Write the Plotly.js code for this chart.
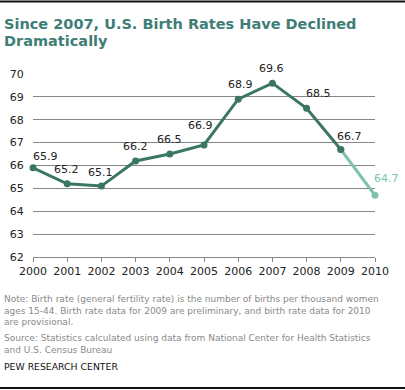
<!DOCTYPE html>
<html>
<head>
<meta charset="utf-8">
<script src="https://cdn.plot.ly/plotly-3.0.1.min.js"></script>
<style>
html,body{margin:0;padding:0;background:#fff;}
#chart{width:405px;height:390px;}
</style>
</head>
<body>
<div id="chart"></div>
<script>
// ---- data ----
var years = [2000, 2001, 2002, 2003, 2004, 2005, 2006, 2007, 2008, 2009, 2010];
var birthRates = [65.9, 65.2, 65.1, 66.2, 66.5, 66.9, 68.9, 69.6, 68.5, 66.7, 64.7];
var provisionalFrom = 9; // index where the provisional (light) segment starts
var yTicks = [62, 63, 64, 65, 66, 67, 68, 69, 70];
var xTicks = years;

var titleLines = ["Since 2007, U.S. Birth Rates Have Declined", "Dramatically"];
var noteLines = [
  "Note: Birth rate (general fertility rate) is the number of births per thousand women",
  "ages 15-44. Birth rate data for 2009 are preliminary, and birth rate data for 2010",
  "are provisional."
];
var sourceLines = [
  "Source: Statistics calculated using data from National Center for Health Statistics",
  "and U.S. Census Bureau"
];
var credit = "PEW RESEARCH CENTER";

// ---- styling ----
var DARK = "#3b7663";
var LIGHT = "#7dc3ab";
var labelDx = [12, -1, -1, 0, 0, -4, 2, -1, 12, 9, 11];
var labelDy = [11, 14, 14, 14, 15, 19, 15, 15, 15, 13, 17];

// plot area in pixels
var L = 33, R = 30, T = 74, B = 133, W = 405, H = 390;
var pw = W - L - R, ph = H - T - B;
function px(x) { return (x - L) / pw; }
function py(y) { return (H - B - y) / ph; }

var traceLight = {
  x: years.slice(provisionalFrom),
  y: birthRates.slice(provisionalFrom),
  mode: "lines+markers",
  line: {color: LIGHT, width: 3},
  marker: {color: LIGHT, size: 7},
  hoverinfo: "skip",
  cliponaxis: false
};
var traceDark = {
  x: years.slice(0, provisionalFrom + 1),
  y: birthRates.slice(0, provisionalFrom + 1),
  mode: "lines+markers",
  line: {color: DARK, width: 3},
  marker: {color: DARK, size: 7},
  hoverinfo: "skip",
  cliponaxis: false
};

var annotations = [];
for (var i = 0; i < years.length; i++) {
  annotations.push({
    x: years[i], y: birthRates[i], xref: "x", yref: "y",
    text: birthRates[i].toFixed(1), showarrow: false,
    xshift: labelDx[i], yshift: labelDy[i],
    font: {family: "DejaVu Sans", size: 11, color: i >= provisionalFrom + 1 ? LIGHT : "#222"}
  });
}
var titleY = [23.5, 41];
titleLines.forEach(function (t, k) {
  annotations.push({
    xref: "paper", yref: "paper", x: px(2), y: py(titleY[k]),
    xanchor: "left", yanchor: "middle", showarrow: false, text: "<b>" + t + "</b>",
    font: {family: "DejaVu Sans", size: 14.5, color: "#3e7e75"}
  });
});
var noteY = [299, 310.5, 322];
noteLines.forEach(function (t, k) {
  annotations.push({
    xref: "paper", yref: "paper", x: px(2), y: py(noteY[k]),
    xanchor: "left", yanchor: "middle", showarrow: false, text: t,
    font: {family: "DejaVu Sans", size: 9, color: "#8a8a8a"}
  });
});
var sourceY = [338, 349.5];
sourceLines.forEach(function (t, k) {
  annotations.push({
    xref: "paper", yref: "paper", x: px(2), y: py(sourceY[k]),
    xanchor: "left", yanchor: "middle", showarrow: false, text: t,
    font: {family: "DejaVu Sans", size: 9, color: "#8a8a8a"}
  });
});
annotations.push({
  xref: "paper", yref: "paper", x: px(2), y: py(366),
  xanchor: "left", yanchor: "middle", showarrow: false, text: credit,
  font: {family: "DejaVu Sans", size: 9.3, color: "#111"}
});

var layout = {
  width: W, height: H,
  margin: {l: L, r: R, t: T, b: B},
  paper_bgcolor: "#fff", plot_bgcolor: "#fff",
  showlegend: false,
  xaxis: {
    range: [2000, 2010], tickvals: xTicks, ticktext: xTicks.map(String),
    showgrid: false, zeroline: false, showline: true, linecolor: "#858585", linewidth: 1,
    ticks: "outside", ticklen: 4, tickcolor: "#858585", tickwidth: 1,
    tickfont: {family: "DejaVu Sans", size: 11, color: "#222"}, fixedrange: true
  },
  yaxis: {
    range: [62, 70], tickvals: yTicks, ticktext: yTicks.map(String),
    showgrid: true, gridcolor: "#858585", gridwidth: 1, zeroline: false, showline: false,
    ticks: "outside", ticklen: 6, tickcolor: "rgba(0,0,0,0)",
    tickfont: {family: "DejaVu Sans", size: 11, color: "#222"}, fixedrange: true
  },
  annotations: annotations,
  shapes: [
    {type: "line", xref: "paper", yref: "paper", x0: px(0), x1: px(405), y0: py(1.5), y1: py(1.5),
     line: {color: "#111", width: 2}},
    {type: "line", xref: "paper", yref: "paper", x0: px(0), x1: px(405), y0: py(388), y1: py(388),
     line: {color: "#111", width: 2}}
  ]
};

Plotly.newPlot("chart", [traceLight, traceDark], layout, {displayModeBar: false, staticPlot: true});
</script>
</body>
</html>
